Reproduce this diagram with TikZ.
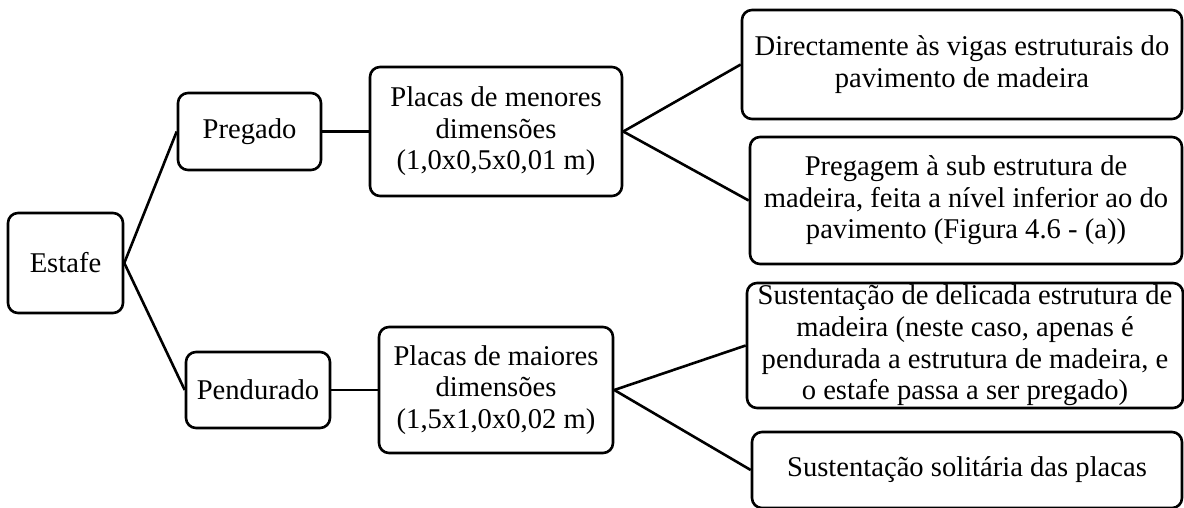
\documentclass[tikz,border=0pt]{standalone}
\usepackage{fontspec}
\setmainfont{Liberation Serif}
\usepackage{tikz}
\usetikzlibrary{positioning}

\begin{document}
\begin{tikzpicture}
        [
            x=0.5pt, y=-0.5pt,
            box/.style={draw, line width=1.3pt, rounded corners=5pt, align=center,
                inner sep=1pt, font=\fontsize{14.3}{15.8}\selectfont,
                execute at begin node=\setlength{\baselineskip}{15.8pt}},
            link/.style={line width=1.3pt},
        ]
        \useasboundingbox (0,0) rectangle (1184,508);
        % first level
        \node[box, minimum width=57.5pt, minimum height=50pt] (estafe) at (65.5,263) {Estafe};
        \node[box, minimum width=71.5pt, minimum height=38.5pt] (pregado) at (249.5,131.5) {Pregado};
        \node[box, minimum width=72pt, minimum height=38pt] (pendurado) at (258,390) {Pendurado};
        % plates
        \node[box, minimum width=126pt, minimum height=64.5pt] (menores) at (496,131.5)
            {Placas de menores\\dimensões\\(1,0x0,5x0,01 m)};
        \node[box, minimum width=117pt, minimum height=63pt] (maiores) at (496,390)
            {Placas de maiores\\dimensões\\(1,5x1,0x0,02 m)};
        % fixing methods
        \node[box, minimum width=220pt, minimum height=54.5pt] (vigas) at (962,64.5)
            {Directamente às vigas estruturais do\\pavimento de madeira};
        \node[box, minimum width=216pt, minimum height=63.5pt] (subestr) at (966,200.5)
            {Pregagem à sub estrutura de\\madeira, feita a nível inferior ao do\\pavimento (Figura 4.6 - (a))};
        \node[box, minimum width=218pt, minimum height=62.5pt] (delicada) at (965,345.5)
            {Sustentação de delicada estrutura de\\madeira (neste caso, apenas é\\pendurada a estrutura de madeira, e\\o estafe passa a ser pregado)};
        \node[box, minimum width=215pt, minimum height=38pt] (solitaria) at (967,470)
            {Sustentação solitária das placas};

        \draw[link] (estafe.east) -- (pregado.west);
        \draw[link] (estafe.east) -- (pendurado.west);
        \draw[link] (pregado.east) -- (menores.west);
        \draw[link] (pendurado.east) -- (maiores.west);
        \draw[link] (menores.east) -- (vigas.west);
        \draw[link] (menores.east) -- (subestr.west);
        \draw[link] (maiores.east) -- (delicada.west);
        \draw[link] (maiores.east) -- (solitaria.west);
    \end{tikzpicture}
\end{document}
